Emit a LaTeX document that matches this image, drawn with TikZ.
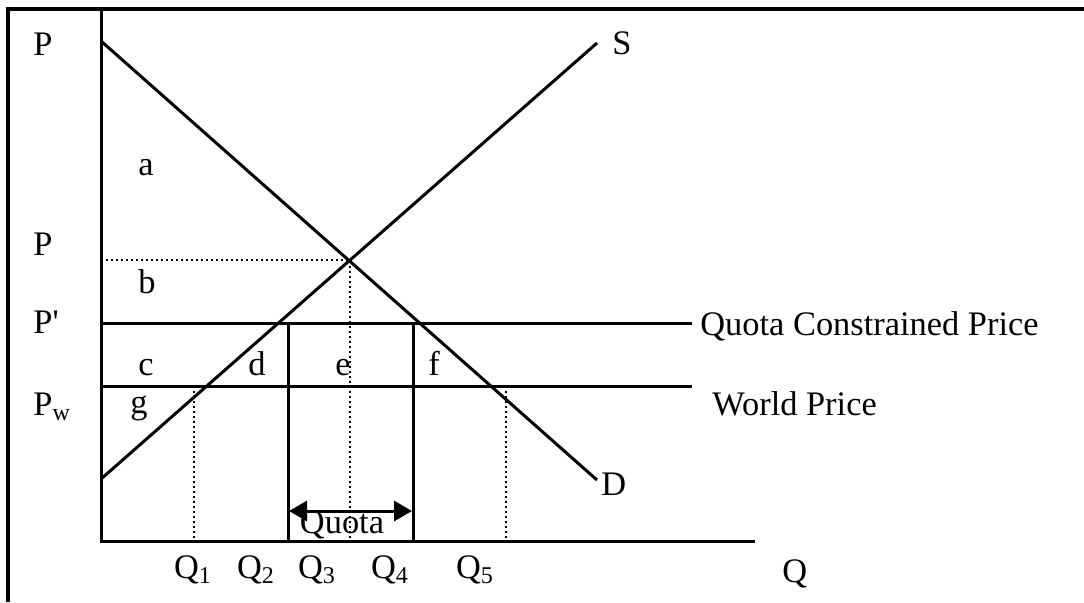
\documentclass[tikz,border=0pt]{standalone}
\usepackage{fontspec}
\setmainfont{Liberation Serif}
\usetikzlibrary{arrows.meta}

\begin{document}
\begin{tikzpicture}[
    x=0.5pt, y=-0.5pt,
    font=\fontsize{17.2}{20}\selectfont,
    % line styles
    frame/.style={line width=1.6pt, draw=black},
    curve/.style={line width=1.5pt, draw=black},
    guide/.style={line width=1.3pt, draw=black, dash pattern=on 1.2pt off 1.3pt},
    quotaarrow/.style={{Triangle[length=9pt,width=10pt]}-{Triangle[length=9pt,width=10pt]}, line width=1.5pt},
    % text style
    lbl/.style={anchor=base west, inner sep=0pt}
]
\useasboundingbox (0,0) rectangle (1084,602);

% outer frame
\draw[frame] (8,602) -- (8,9) -- (1084,9);

% key points
\coordinate (origin) at (101,541);
\coordinate (ytop) at (101,9);
\coordinate (xend) at (755,541);
\coordinate (dstart) at (101,41);
\coordinate (dend) at (597,480);
\coordinate (sstart) at (101,479);
\coordinate (send) at (597,43);
\coordinate (eq) at (350,260);
\coordinate (pcl) at (101,323);
\coordinate (pcr) at (692,323);
\coordinate (pwl) at (101,386);
\coordinate (pwr) at (692,386);

% axes
\draw[curve] (ytop) -- (origin) -- (xend);

% supply and demand
\draw[curve] (dstart) -- (dend);
\draw[curve] (sstart) -- (send);

% price lines
\draw[curve] (pcl) -- (pcr);
\draw[curve] (pwl) -- (pwr);

% quota box sides
\draw[curve] (288,323) -- (288,541);
\draw[curve] (413,323) -- (413,541);

% dotted guides
\draw[guide] (101,260) -- (eq) -- (350,541);
\draw[guide] (194,386) -- (194,541);
\draw[guide] (506,386) -- (506,541);

% quota arrow
\coordinate (qa) at (289,511);
\coordinate (qb) at (412,511);
\draw[quotaarrow] (qa) -- (qb);
\node[anchor=base, inner sep=0pt] (quota) at (342,533) {Quota};

% axis labels
\node[lbl] (ptop) at (33,55) {P};
\node[lbl] (peq) at (33,255) {P};
\node[lbl] (pc) at (33,333) {P\textquotesingle};
\node[lbl] (pw) at (33,415) {P\textsubscript{w}};
\node[lbl] (qaxis) at (782,582) {Q};
\node[anchor=base, inner sep=0pt] (q1) at (193,578) {Q\textsubscript{1}};
\node[anchor=base, inner sep=0pt] (q2) at (256,578) {Q\textsubscript{2}};
\node[anchor=base, inner sep=0pt] (q3) at (317,578) {Q\textsubscript{3}};
\node[anchor=base, inner sep=0pt] (q4) at (390,578) {Q\textsubscript{4}};
\node[anchor=base, inner sep=0pt] (q5) at (475,578) {Q\textsubscript{5}};

% curve and line names
\node[lbl] (slbl) at (612,54) {S};
\node[lbl] (dlbl) at (601,495) {D};
\node[lbl] (pclbl) at (700,335) {Quota Constrained Price};
\node[lbl] (pwlbl) at (712,415) {World Price};

% areas
\node[lbl] (ara) at (138,175) {a};
\node[lbl] (arb) at (138,293) {b};
\node[lbl] (arc) at (138,375) {c};
\node[lbl] (ard) at (248,375) {d};
\node[lbl] (are) at (335,375) {e};
\node[lbl] (arf) at (428,375) {f};
\node[lbl] (arg) at (130,413) {g};

\end{tikzpicture}
\end{document}
